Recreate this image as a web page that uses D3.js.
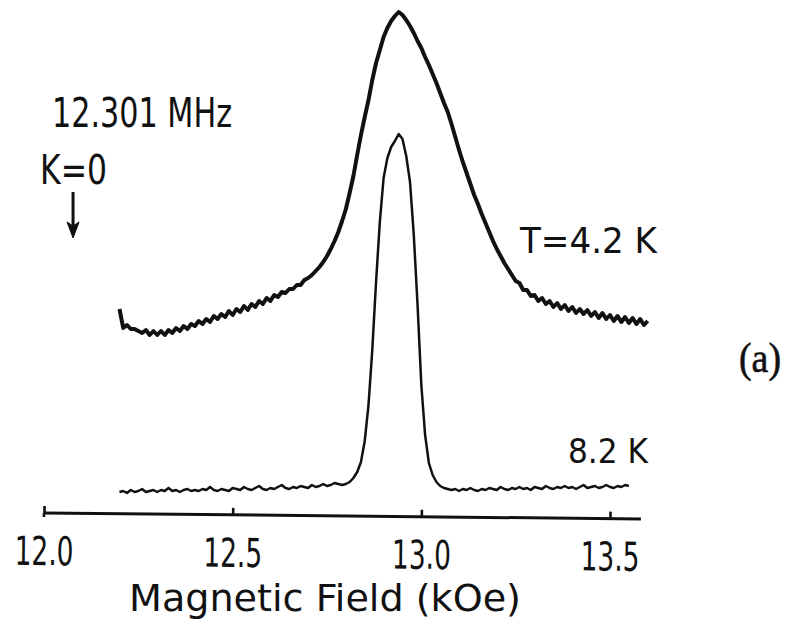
<!DOCTYPE html>
<html>
<head>
<meta charset="utf-8">
<script src="https://cdn.jsdelivr.net/npm/d3@7"></script>
<style>
  html, body { margin: 0; padding: 0; background: #fff; }
  svg { display: block; }
</style>
</head>
<body>
<svg id="chart" width="790" height="622"></svg>
<script>
// ---------------- data ----------------
const tickValues = [12.0, 12.5, 13.0, 13.5];
const tickLabels = ["12.0", "12.5", "13.0", "13.5"];
const axisLabel = "Magnetic Field (kOe)";
const axisEnd = 13.582;          // kOe, right end of the drawn axis line
const kZeroField = 12.077;       // kOe, K=0 arrow position

// sampled field grid (kOe)
const fieldStart = 12.20;
const fieldStep = 0.01;

// T = 4.2 K signal (arbitrary units), one value per field step from 12.20 to 13.60
const signal42 = [
  41.4,37.6,38.2,37.4,37.4,37.0,36.6,37.2,36.2,37.0,
  36.2,37.0,36.2,37.2,36.6,37.6,37.0,38.0,37.4,38.4,
  38.0,39.0,38.4,39.4,38.8,40.0,39.4,40.4,39.8,41.0,
  40.2,41.4,40.8,42.0,41.2,42.4,41.8,43.0,42.4,43.6,
  43.0,44.2,43.8,44.8,44.6,45.4,45.4,46.2,46.2,47.2,
  47.6,48.2,49.0,49.8,50.8,52.0,53.4,55.0,56.8,59.0,
  61.4,64.6,68.0,72.2,76.2,79.8,83.2,87.2,90.6,93.2,
  95.8,97.6,99.0,100.0,100.8,100.2,99.2,98.0,96.6,95.0,
  93.6,91.8,90.2,88.4,86.6,84.6,82.6,80.8,78.4,75.8,
  73.2,70.8,68.6,66.4,64.2,62.4,60.4,58.6,56.8,55.0,
  53.4,52.0,50.6,49.4,48.2,47.0,46.6,45.2,45.2,44.0,
  44.2,43.0,43.6,42.4,43.0,41.8,42.6,41.4,42.2,41.0,
  41.8,40.6,41.4,40.4,41.2,40.0,40.8,39.6,40.6,39.4,
  40.2,39.0,40.0,38.8,39.8,38.6,39.6,38.4,39.4,38.2,
  39.0
];

// 8.2 K signal (arbitrary units), one value per field step from 12.20 to 13.55
const signal82 = [
  4.8,5.0,4.6,5.2,4.8,5.0,5.4,4.8,5.0,5.2,
  4.8,5.2,5.0,5.6,5.0,5.2,4.8,5.2,5.4,5.0,
  5.2,5.0,5.4,5.2,5.8,5.2,5.0,5.4,5.2,5.0,
  5.6,5.4,5.2,5.8,5.4,5.2,5.6,6.0,5.4,5.2,
  5.6,5.4,5.8,6.2,5.6,5.4,5.8,5.6,6.0,5.8,
  5.6,6.2,5.8,6.0,6.4,6.0,6.2,6.6,6.4,6.2,
  6.4,6.8,7.6,8.8,10.8,15.0,22.2,33.2,46.8,58.8,
  67.6,71.6,73.8,75.0,76.4,75.4,72.0,66.8,56.2,42.2,
  26.2,16.2,10.6,8.2,6.8,6.0,5.6,5.4,
  5.2,5.4,5.0,5.4,5.2,5.6,5.2,5.0,5.4,5.2,
  5.6,5.4,5.2,5.8,5.4,5.2,5.6,5.4,5.8,5.4,
  5.6,5.2,5.8,5.6,5.4,6.0,5.6,5.4,5.8,5.6,
  6.0,5.6,5.8,5.4,5.8,6.2,5.6,5.8,6.0,5.6,
  5.8,6.2,5.8,5.6,6.0,5.8,6.2,6.0
];

const seriesLabels = ["T=4.2 K", "8.2 K"];
const freqLabel = "12.301 MHz";
const kLabel = "K=0";
const panelLabel = "(a)";

// ---------------- drawing ----------------
const svg = d3.select("#chart");
const ink = "#111";
const sans = "'DejaVu Sans', sans-serif";

const x = d3.scaleLinear().domain([12.0, 13.5]).range([44, 610]);
const y = d3.scaleLinear().domain([0, 100]).range([516, 16]);

const toPts = arr => arr.map((v, i) => [fieldStart + i * fieldStep, v]);
const line = d3.line().x(d => x(d[0])).y(d => y(d[1]));

svg.append("path")
  .datum(toPts(signal42))
  .attr("d", line)
  .attr("fill", "none")
  .attr("stroke", ink)
  .attr("stroke-width", 4)
  .attr("stroke-linejoin", "round");

svg.append("path")
  .datum(toPts(signal82))
  .attr("d", line)
  .attr("fill", "none")
  .attr("stroke", ink)
  .attr("stroke-width", 2.5)
  .attr("stroke-linejoin", "round");

// axis (drawn slightly tilted, as in the scanned original)
const axisY = 513;
const axis = d3.axisBottom(x)
  .tickValues(tickValues)
  .tickFormat((d, i) => tickLabels[i])
  .tickSizeInner(-7)
  .tickSizeOuter(0);

const gAxis = svg.append("g")
  .attr("transform", `translate(0,${axisY}) rotate(0.57,${x(12.0)},0)`)
  .call(axis);
gAxis.select(".domain").remove();
gAxis.selectAll(".tick line").attr("stroke", ink).attr("stroke-width", 2.6);
gAxis.selectAll(".tick text")
  .attr("y", 52)
  .attr("dy", null)
  .attr("fill", ink)
  .attr("font-family", sans)
  .attr("font-size", 40)
  .attr("textLength", 59)
  .attr("lengthAdjust", "spacingAndGlyphs");
gAxis.append("line")
  .attr("x1", x(12.0)).attr("x2", x(axisEnd))
  .attr("y1", 0).attr("y2", 0)
  .attr("stroke", ink).attr("stroke-width", 3);
gAxis.append("line")
  .attr("x1", x(12.0)).attr("x2", x(12.0))
  .attr("y1", 0).attr("y2", 4)
  .attr("stroke", ink).attr("stroke-width", 2.6);

svg.append("text")
  .attr("x", 129).attr("y", 611)
  .attr("font-family", sans).attr("font-size", 38).attr("fill", ink)
  .attr("textLength", 392).attr("lengthAdjust", "spacingAndGlyphs")
  .text(axisLabel);

// annotations
function label(txt, xx, yy, size, len) {
  svg.append("text")
    .attr("x", xx).attr("y", yy)
    .attr("font-family", sans).attr("font-size", size).attr("fill", ink)
    .attr("textLength", len).attr("lengthAdjust", "spacingAndGlyphs")
    .text(txt);
}
label(freqLabel, 52, 127, 40, 180);
label(kLabel, 40, 184, 40, 67);
label(seriesLabels[0], 520, 253, 36, 137);
label(seriesLabels[1], 568, 463, 33, 80);

svg.append("text")
  .attr("x", 739).attr("y", 372)
  .attr("font-family", "'Liberation Serif', 'Times New Roman', serif")
  .attr("font-size", 43).attr("fill", ink)
  .attr("stroke", ink).attr("stroke-width", 0.6)
  .attr("textLength", 42).attr("lengthAdjust", "spacingAndGlyphs")
  .text(panelLabel);

// K=0 arrow
const ax = x(kZeroField);
svg.append("line")
  .attr("x1", ax).attr("x2", ax).attr("y1", 192).attr("y2", 228)
  .attr("stroke", ink).attr("stroke-width", 3);
svg.append("path")
  .attr("d", `M${ax - 6},${222} L${ax},${238} L${ax + 6},${222} L${ax},${226} Z`)
  .attr("fill", ink).attr("stroke", ink).attr("stroke-width", 1)
  .attr("stroke-linejoin", "miter");
</script>
</body>
</html>
